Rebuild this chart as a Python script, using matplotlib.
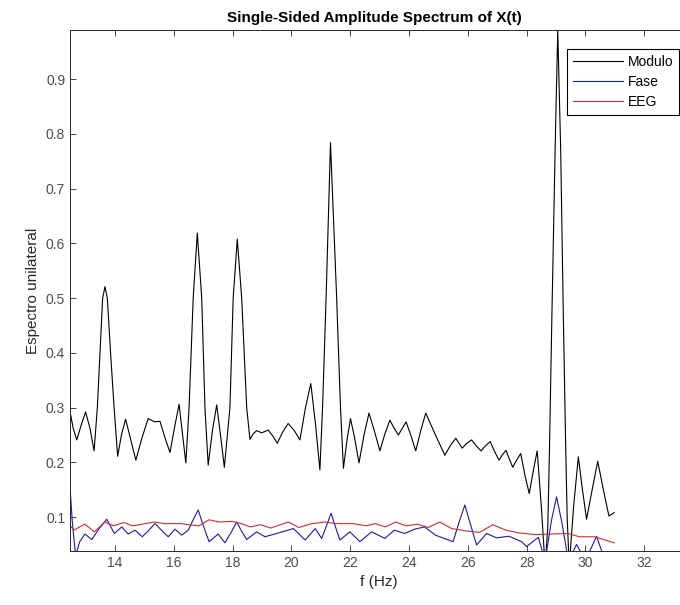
import matplotlib.pyplot as plt

plt.rcParams['font.family'] = ['Liberation Sans', 'DejaVu Sans']

# Modulo (black), frequency in Hz
modulo_f = [12.47, 12.58, 12.70, 12.85, 13.00, 13.15, 13.29, 13.40, 13.49, 13.58,
            13.66, 13.74, 13.85, 13.97, 14.09, 14.22, 14.36, 14.54, 14.71, 14.92,
            15.13, 15.35, 15.53, 15.70, 15.87, 16.03, 16.18, 16.30, 16.41, 16.52,
            16.66, 16.80, 16.95, 17.06, 17.17, 17.32, 17.46, 17.60, 17.72, 17.91,
            18.02, 18.16, 18.31, 18.48, 18.59, 18.70, 18.82, 18.99, 19.21, 19.37,
            19.52, 19.70, 19.89, 20.10, 20.29, 20.48, 20.66, 20.82, 20.97, 21.06,
            21.18, 21.33, 21.54, 21.67, 21.77, 21.89, 22.01, 22.15, 22.30, 22.47,
            22.64, 22.82, 23.01, 23.18, 23.35, 23.50, 23.64, 23.77, 23.90, 24.06,
            24.23, 24.40, 24.57, 24.90, 25.22, 25.40, 25.59, 25.70, 25.81, 25.97,
            26.13, 26.29, 26.45, 26.60, 26.76, 26.91, 27.06, 27.18, 27.30, 27.42,
            27.53, 27.66, 27.80, 27.95, 28.09, 28.23, 28.36, 28.50, 28.63, 28.72,
            28.78, 28.86, 28.97, 29.06, 29.16, 29.25, 29.33, 29.38, 29.45, 29.60,
            29.76, 29.90, 30.04, 30.23, 30.42, 30.61, 30.80, 30.98]
modulo_v = [0.293, 0.262, 0.241, 0.268, 0.292, 0.262, 0.221, 0.300, 0.400, 0.500,
            0.521, 0.500, 0.400, 0.300, 0.211, 0.250, 0.279, 0.240, 0.204, 0.245,
            0.280, 0.274, 0.275, 0.245, 0.218, 0.265, 0.306, 0.250, 0.199, 0.300,
            0.500, 0.619, 0.500, 0.300, 0.195, 0.260, 0.305, 0.245, 0.191, 0.300,
            0.500, 0.608, 0.500, 0.300, 0.242, 0.252, 0.258, 0.254, 0.259, 0.248,
            0.235, 0.255, 0.271, 0.258, 0.241, 0.300, 0.344, 0.270, 0.186, 0.300,
            0.500, 0.784, 0.500, 0.300, 0.189, 0.240, 0.280, 0.245, 0.199, 0.250,
            0.290, 0.258, 0.221, 0.252, 0.277, 0.262, 0.250, 0.262, 0.274, 0.250,
            0.221, 0.258, 0.290, 0.250, 0.213, 0.230, 0.244, 0.235, 0.226, 0.235,
            0.241, 0.230, 0.221, 0.230, 0.238, 0.220, 0.204, 0.214, 0.222, 0.205,
            0.191, 0.204, 0.216, 0.175, 0.143, 0.185, 0.221, 0.120, 0.010, 0.080,
            0.228, 0.466, 0.770, 0.990, 0.770, 0.466, 0.228, 0.100, 0.010, 0.120,
            0.210, 0.150, 0.096, 0.150, 0.202, 0.150, 0.102, 0.108]

# Fase (blue)
fase_f = [12.47, 12.55, 12.66, 12.80, 12.98, 13.21, 13.45, 13.72, 13.98, 14.23,
          14.45, 14.68, 14.93, 15.15, 15.36, 15.60, 15.81, 16.04, 16.27, 16.49,
          16.66, 16.83, 17.00, 17.20, 17.51, 17.74, 17.95, 18.14, 18.30, 18.48,
          18.82, 19.10, 19.50, 20.07, 20.47, 20.81, 21.03, 21.20, 21.35, 21.50,
          21.65, 21.99, 22.33, 22.73, 23.18, 23.50, 23.85, 24.20, 24.53, 24.90,
          25.50, 25.70, 25.90, 26.10, 26.30, 26.64, 26.98, 27.40, 27.83, 28.00,
          28.40, 28.63, 28.85, 29.02, 29.20, 29.42, 29.70, 30.00, 30.38, 30.67]
fase_v = [0.155, 0.090, 0.030, 0.055, 0.069, 0.059, 0.078, 0.096, 0.070, 0.082,
          0.069, 0.076, 0.064, 0.076, 0.088, 0.075, 0.064, 0.078, 0.067, 0.076,
          0.095, 0.113, 0.085, 0.055, 0.069, 0.053, 0.072, 0.091, 0.075, 0.059,
          0.073, 0.064, 0.070, 0.079, 0.058, 0.079, 0.061, 0.085, 0.107, 0.082,
          0.058, 0.073, 0.055, 0.073, 0.061, 0.076, 0.070, 0.078, 0.082, 0.067,
          0.055, 0.090, 0.122, 0.085, 0.049, 0.070, 0.062, 0.065, 0.055, 0.046,
          0.063, 0.020, 0.095, 0.137, 0.090, 0.020, 0.050, 0.020, 0.065, 0.020]

# EEG (red)
eeg_f = [12.47, 12.60, 12.97, 13.30, 13.65, 13.95, 14.30, 14.60, 15.35, 15.70,
         16.25, 16.50, 16.85, 17.20, 17.55, 18.00, 18.30, 18.60, 18.95, 19.30,
         19.90, 20.25, 20.70, 21.15, 21.50, 22.10, 22.55, 22.85, 23.20, 23.55,
         23.90, 24.30, 24.65, 25.05, 25.45, 25.90, 26.40, 26.85, 27.30, 27.75,
         28.30, 28.85, 29.40, 29.80, 30.30, 30.98]
eeg_v = [0.085, 0.076, 0.087, 0.073, 0.091, 0.084, 0.090, 0.084, 0.091, 0.088,
         0.088, 0.086, 0.084, 0.095, 0.091, 0.092, 0.088, 0.082, 0.086, 0.080,
         0.091, 0.081, 0.088, 0.091, 0.088, 0.088, 0.084, 0.088, 0.082, 0.091,
         0.084, 0.087, 0.081, 0.091, 0.079, 0.075, 0.072, 0.086, 0.076, 0.071,
         0.068, 0.069, 0.070, 0.064, 0.064, 0.053]

fig = plt.figure(figsize=(6.8, 6.05), dpi=100)
ax = fig.add_axes([70 / 680, 54 / 605, 618 / 680, 521 / 605])

ax.plot(modulo_f, modulo_v, color='black', lw=0.8, label='Modulo',
        solid_joinstyle='round')
ax.plot(fase_f, fase_v, color='#1a1ab4', lw=0.8, label='Fase',
        solid_joinstyle='round')
ax.plot(eeg_f, eeg_v, color='#d42a2a', lw=0.8, label='EEG',
        solid_joinstyle='round')

ax.set_xlim(12.47, 33.49)
ax.set_ylim(0.038, 0.99)
ax.set_xticks(range(14, 34, 2))
ax.set_yticks([0.1, 0.2, 0.3, 0.4, 0.5, 0.6, 0.7, 0.8, 0.9])
ax.tick_params(direction='in', top=True, right=True, length=4, width=0.6,
               labelsize=10, colors='#262626', labelcolor='#4d4d4d')
for s in ax.spines.values():
    s.set_linewidth(0.7)
    s.set_color('#262626')

ax.set_title('Single-Sided Amplitude Spectrum of X(t)', fontsize=11,
             fontweight='bold', x=0.492, pad=6)
ax.set_xlabel('f (Hz)', fontsize=11, color='#262626')
ax.set_ylabel('Espectro unilateral', fontsize=11, color='#262626')

leg = ax.legend(loc='upper left', bbox_to_anchor=(567 / 680, 1 - 49 / 605),
                bbox_transform=fig.transFigure, fontsize=10, handlelength=3.6,
                fancybox=False, framealpha=1, borderaxespad=0,
                labelspacing=0.45, handletextpad=0.4)
leg.get_frame().set_edgecolor('black')
leg.get_frame().set_linewidth(0.8)

fig.savefig('out.png', dpi=100)
